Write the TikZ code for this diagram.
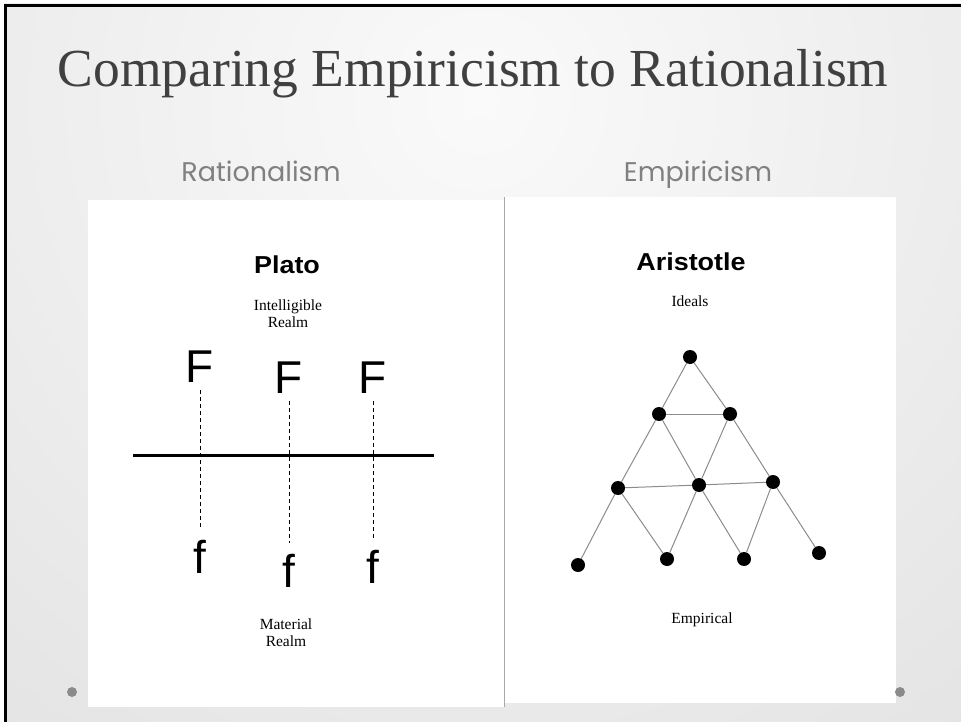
\documentclass[tikz,border=0pt]{standalone}
\usepackage{fontspec}
\setmainfont{Liberation Serif}
\newfontfamily\gothicfont{Poppins}
\newfontfamily\arialfont{Liberation Sans}
\newfontfamily\heavyfont{Liberation Sans}[BoldFeatures={FakeStretch=1.1}]
\usetikzlibrary{positioning}
\definecolor{slidebg}{HTML}{D6D6D6}
\definecolor{slidehi}{HTML}{FAFAFA}
\definecolor{titlegray}{HTML}{404040}
\definecolor{subgray}{HTML}{808080}
\definecolor{edgegray}{HTML}{8C8C8C}
\definecolor{rulegray}{HTML}{A8A8A8}
\definecolor{bulletgray}{HTML}{8A8A8A}
\tikzset{
  slidetitle/.style={inner sep=0pt, anchor=base, text=titlegray,
                     font=\fontsize{53.5}{60}\selectfont},
  columnhead/.style={inner sep=0pt, anchor=base, text=subgray,
                     font=\gothicfont\fontsize{27}{32}\selectfont},
  thinker/.style={inner sep=0pt, anchor=base,
                  font=\heavyfont\bfseries\fontsize{24.5}{28}\selectfont},
  realmlabel/.style={inner sep=0pt, align=center,
                     font=\fontsize{15.5}{17}\selectfont},
  formletter/.style={inner sep=0pt, anchor=base,
                     font=\arialfont\fontsize{46}{50}\selectfont},
  graphdot/.style={circle, fill=black, inner sep=0pt, minimum size=14pt},
  graphlink/.style={draw=edgegray, line width=1pt},
  participation/.style={draw=black, dashed, dash pattern=on 4pt off 3pt,
                        line width=0.9pt, shorten <=8pt, shorten >=11pt}}

\begin{document}
\begin{tikzpicture}[x=1pt, y=-1pt]
  \useasboundingbox (0,0) rectangle (961,722);
  % slide background
  \fill[white] (0,0) rectangle (961,722);
  \begin{scope}
    \clip (4,4) rectangle (961,722);
    \shade[inner color=slidehi, outer color=slidebg] (480,100) circle (1300pt);
  \end{scope}
  \draw[black, line width=2.8pt] (4,5.5) -- (961,5.5);
  \draw[black, line width=2.8pt] (5.7,4) -- (5.7,722);

  % title and column heads
  \node[slidetitle] (title) at (473,87) {Comparing Empiricism to Rationalism};
  \node[columnhead] (rathead) at (261,182) {Rationalism};
  \node[columnhead] (emphead) at (698,182) {Empiricism};

  % the two pasted figures
  \fill[white] (88,200) rectangle (504,707);
  \fill[white] (505,197) rectangle (896,703);
  \draw[rulegray, line width=1pt] (504.5,197) -- (504.5,707);
  \fill[bulletgray] (72,692) circle (5pt);
  \fill[bulletgray] (900,692) circle (5pt);

  % Plato
  \node[thinker] (plato) at (287,273) {Plato};
  \node[realmlabel] (intel) at (288,314) {Intelligible\\Realm};
  \node[realmlabel] (material) at (286,633) {Material\\Realm};
  \node[formletter] (F1) at (200,382) {F};
  \node[formletter] (F2) at (289,393) {F};
  \node[formletter] (F3) at (373,393) {F};
  \node[formletter] (f1) at (200,573) {f};
  \node[formletter] (f2) at (289,587) {f};
  \node[formletter] (f3) at (373,583) {f};
  \draw[line width=3pt] (133,455) -- (434,455);
  \foreach \k in {1,2,3}
    \draw[participation] (F\k.south) -- (f\k.north);

  % Aristotle
  \node[thinker] (aristotle) at (691,270) {Aristotle};
  \node[realmlabel] (ideals) at (690,301) {Ideals};
  \node[realmlabel] (empirical) at (702,620) {Empirical};
  \foreach \name/\x/\y in {apex/690/357, m1/659/414, m2/730/414,
                           c1/618/488, c2/699/485, c3/773/482,
                           e1/578/565, e2/667/559, e3/744/559, e4/819/553}
    \node[graphdot] (\name) at (\x,\y) {};
  \foreach \a/\b in {apex/m1, apex/m2, m1/m2, m1/c1, m1/c2, m2/c2, m2/c3,
                     c1/c2, c2/c3, c1/e1, c1/e2, c2/e2, c2/e3, c3/e3, c3/e4}
    \draw[graphlink] (\a) -- (\b);
\end{tikzpicture}
\end{document}
